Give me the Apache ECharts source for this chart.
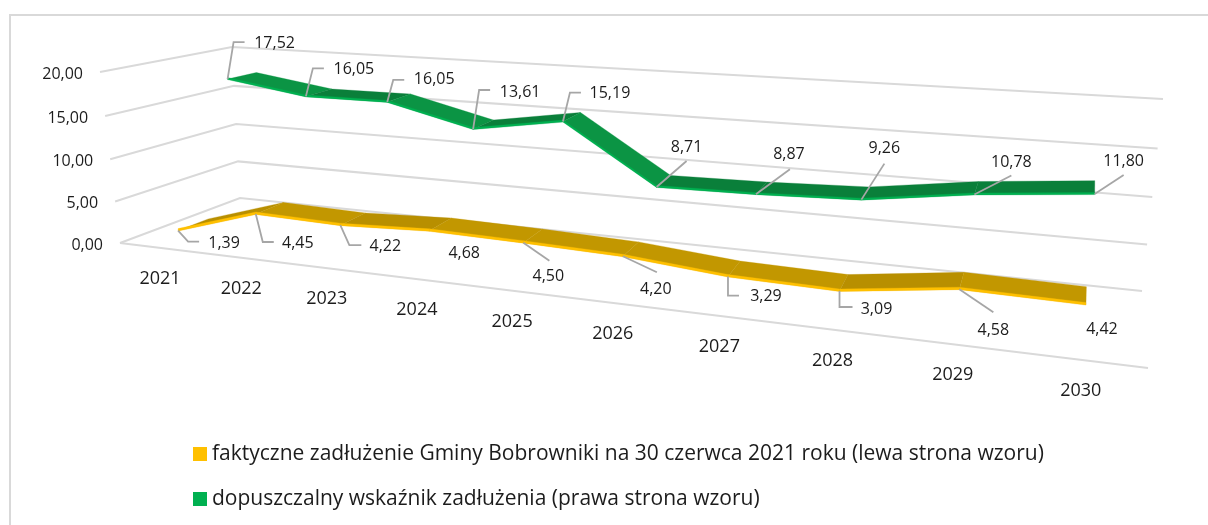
<!DOCTYPE html>
<html>
<head>
<meta charset="utf-8">
<style>html,body{margin:0;padding:0;background:#fff}#c{width:1208px;height:525px}</style>
<script src="https://cdn.jsdelivr.net/npm/echarts@6/dist/echarts.min.js"></script>
</head>
<body>
<div id="c"></div>
<script>
const years = ['2021','2022','2023','2024','2025','2026','2027','2028','2029','2030'];
const debtValues = [1.39,4.45,4.22,4.68,4.50,4.20,3.29,3.09,4.58,4.42];
const limitValues = [17.52,16.05,16.05,13.61,15.19,8.71,8.87,9.26,10.78,11.80];
const yTicks = [0,5,10,15,20];
const debtName = 'faktyczne zadłużenie Gminy Bobrowniki na 30 czerwca 2021 roku (lewa strona wzoru)';
const limitName = 'dopuszczalny wskaźnik zadłużenia (prawa strona wzoru)';

// Leader and label layout, relative to the projected data point: [[leader points...], [label dx, dy]]
const debtLeaders = [
 [[[10,11],[21,11]],[46,13]], [[[7,28],[18,28]],[42,29]], [[[9,20],[21,20]],[45,21]],
 [[],[35,23]], [[[26,18]],[25,34]], [[[34,16]],[33,33]],
 [[[0,19],[11,19]],[38,20]], [[[0,16],[13,16]],[37,18]], [[[34,23]],[34,41]], [[],[16,25]]
];
const limitLeaders = [
 [[[6,-37],[17,-37]],[47,-36]], [[[7,-28],[18,-28]],[48,-27]], [[[6,-22],[17,-22]],[47,-22]],
 [[[6,-39],[17,-39]],[47,-37]], [[[7,-29],[18,-29]],[47,-28]], [[[30,-26]],[30,-40]],
 [[[34,-25]],[33,-40]], [[[23,-36]],[23,-51]], [[[37,-19]],[37,-32]], [[[29,-19]],[29,-33]]
];

// Perspective box of the Excel 3D chart (screen positions of its corners)
const box = {
  fl0:[120,243], fl1:[100,72], bl0:[240,198], bl1:[232,47],
  br0:[1142,291], br1:[1163,99], fr0:[1148,368], fr1:[1173,147]
};
const persp = 1.33;
const FONT = '"Open Sans"';
const INK = '#1C1C1C';
const GRID = '#D9D9D9';
const LEADER = '#A6A6A6';

function mix(a,b,t){return [a[0]+(b[0]-a[0])*t, a[1]+(b[1]-a[1])*t];}
function project(u,v,w){
  const s = u/(u+(1-u)*persp);
  const h = v-0.04*v*(1-v);
  const left = mix(mix(box.fl0,box.bl0,w), mix(box.fl1,box.bl1,w), h);
  const right = mix(mix(box.fr0,box.br0,w), mix(box.fr1,box.br1,w), h);
  return mix(left,right,s);
}
// data value -> ECharts axis scales -> flat plot fraction -> perspective box
function place(api,params,i,val,w,t){
  const cs = params.coordSys;
  const p = api.coord([i,val]);
  const u = (p[0]-cs.x)/cs.width;
  const q = project(u, (cs.y+cs.height-p[1])/cs.height, w);
  return [q[0]+t.nudge*(1-u)+t.bend*u*(1-u), q[1]-t.lift*u];
}
function fmt(v){return v.toFixed(2).replace('.',',');}
function text(x,y,str,size,align){
  return {type:'text',style:{x:x,y:y,text:str,fill:INK,fontSize:size,fontFamily:FONT,align:align||'center',verticalAlign:'middle'}};
}
function poly(points,fill){
  return {type:'polygon',shape:{points:points},style:{fill:fill,stroke:fill,lineWidth:0.3}};
}
function line(points,stroke,width){
  return {type:'polyline',shape:{points:points},style:{fill:'none',stroke:stroke,lineWidth:width}};
}

function ribbon(values,leaders,w0,w1,t,strip,lightTop,darkTop){
  return function(params,api){
    const i = api.value(0), v = api.value(1), kids = [];
    const a = place(api,params,i,v,w0,t);
    if(i < values.length-1){
      const n = values[i+1];
      const b = place(api,params,i+1,n,w0,t);
      const a2 = place(api,params,i,v,w1,t), b2 = place(api,params,i+1,n,w1,t);
      kids.push(poly([a,b,b2,a2], n>=v ? darkTop : lightTop));
      const h = t.strip;
      kids.push(poly([[a[0],a[1]-h],[b[0],b[1]-h],[b[0],b[1]+0.5],[a[0],a[1]+0.5]], strip));
    }
    const lead = leaders[i];
    if(lead[0].length){
      kids.push(line([a].concat(lead[0].map(d=>[a[0]+d[0],a[1]+d[1]])),LEADER,1.8));
    }
    kids.push(text(a[0]+lead[1][0],a[1]+lead[1][1],fmt(v),16));
    return {type:'group',children:kids};
  };
}

const chart = echarts.init(document.getElementById('c'),null,{renderer:'canvas'});
chart.setOption({
  animation:false,
  backgroundColor:'#fff',
  graphic:[{type:'polyline',z:0,shape:{points:[[10,525],[10,15],[1208,15]]},style:{fill:'none',stroke:GRID,lineWidth:2}}],
  grid:{left:0,right:0,top:0,bottom:0},
  xAxis:{type:'category',data:years,show:false},
  yAxis:{type:'value',min:0,max:20,interval:5,show:false},
  legend:{
    show:true,orient:'vertical',left:193,top:443.5,padding:0,itemWidth:14,itemHeight:14,itemGap:24,itemStyle:{borderWidth:0},
    icon:'rect',data:[debtName,limitName],selectedMode:false,
    textStyle:{fontFamily:FONT,fontSize:21,color:INK,padding:[0,0,0,0]}
  },
  series:[
    {type:'custom',name:'siatka',coordinateSystem:'cartesian2d',z:1,silent:true,
     data:yTicks.map(t=>[0,t]),encode:{x:0,y:1},
     renderItem:function(params,api){
       const cs = params.coordSys, t = api.value(1);
       const y = api.coord([0,t])[1], v = (cs.y+cs.height-y)/cs.height;
       const f = project(0,v,0), b = project(0,v,1), r = project(1,v,1);
       const kids = [line([f,b,r],GRID,2), text(f[0]-17,f[1]+2,fmt(t),16,'right')];
       if(t===0) kids.push(line([f,project(1,0,0)],GRID,2));
       return {type:'group',children:kids};
     }},
    {type:'custom',name:'lata',coordinateSystem:'cartesian2d',z:1,silent:true,
     data:years.map((y,i)=>[i,0]),encode:{x:0,y:1},
     renderItem:function(params,api){
       const i = api.value(0), p = place(api,params,i,0,0,{nudge:1,bend:0,lift:0});
       return text(p[0],p[1]+31,years[i],18);
     }},
    {type:'custom',name:limitName,coordinateSystem:'cartesian2d',z:3,silent:true,itemStyle:{color:'#00B050'},
     data:limitValues.map((v,i)=>[i,v]),encode:{x:0,y:1},
     renderItem:ribbon(limitValues,limitLeaders,0.625,0.855,{nudge:6,bend:10,lift:3,strip:1.5},'#00B050','#0B9444','#0A7F3A')},
    {type:'custom',name:debtName,coordinateSystem:'cartesian2d',z:4,silent:true,itemStyle:{color:'#FFC000'},
     data:debtValues.map((v,i)=>[i,v]),encode:{x:0,y:1},
     renderItem:ribbon(debtValues,debtLeaders,0.125,0.385,{nudge:6,bend:0,lift:0,strip:2},'#FFC000','#C29700','#B88F00')}
  ]
});
</script>
</body>
</html>
